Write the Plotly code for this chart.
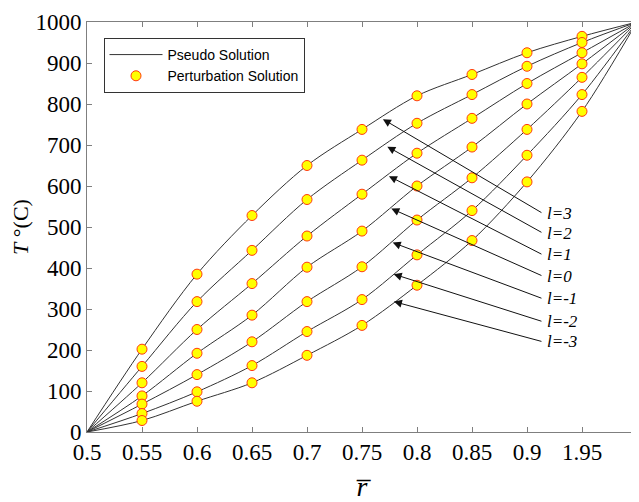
import plotly.graph_objects as go

r_vals = [0.55, 0.6, 0.65, 0.7, 0.75, 0.8, 0.85, 0.9, 0.95]
r_start, r_end = 0.5, 1.0
T_start, T_end = 0, 1000

l_labels = ["l=3", "l=2", "l=1", "l=0", "l=-1", "l=-2", "l=-3"]
T_l3 = [202, 385, 528, 650, 738, 820, 872, 925, 965]
T_l2 = [160, 318, 443, 567, 663, 753, 823, 892, 950]
T_l1 = [120, 250, 362, 478, 580, 680, 765, 850, 925]
T_l0 = [88, 192, 285, 402, 490, 600, 695, 800, 898]
T_lm1 = [68, 140, 220, 318, 403, 517, 620, 738, 865]
T_lm2 = [45, 98, 162, 245, 323, 432, 540, 675, 823]
T_lm3 = [28, 75, 120, 187, 260, 358, 467, 610, 782]
series = [T_l3, T_l2, T_l1, T_l0, T_lm1, T_lm2, T_lm3]

# arrow tips (on curves) and label anchors
arrow_tip_r = [0.769, 0.773, 0.7745, 0.7766, 0.7779, 0.7788, 0.779]
arrow_tip_T = [763, 696, 624, 545, 462, 385, 318]
label_r = 0.9145
label_T = [533, 485, 432, 380, 325, 269, 220]

x_tickvals = [0.5, 0.55, 0.6, 0.65, 0.7, 0.75, 0.8, 0.85, 0.9, 0.95, 1.0]
x_ticktext = ["0.5", "0.55", "0.6", "0.65", "0.7", "0.75", "0.8", "0.85", "0.9", "1.95", "1"]
y_tickvals = list(range(0, 1001, 100))

fig = go.Figure()

for i, T in enumerate(series):
    fig.add_trace(go.Scatter(
        x=[r_start] + r_vals + [r_end],
        y=[T_start] + T + [T_end],
        mode="lines",
        line=dict(color="#333333", width=1, shape="spline", smoothing=0.9),
        name="Pseudo Solution",
        showlegend=(i == 0),
        hoverinfo="skip",
    ))

for i, T in enumerate(series):
    fig.add_trace(go.Scatter(
        x=r_vals, y=T,
        mode="markers",
        marker=dict(size=10, color="#FFFF00", line=dict(color="#FF3A10", width=1)),
        name="Perturbation Solution",
        showlegend=(i == 0),
    ))

serif = "Liberation Serif"

for i in range(len(l_labels)):
    fig.add_annotation(
        x=arrow_tip_r[i], y=arrow_tip_T[i], xref="x", yref="y",
        ax=label_r, ay=label_T[i], axref="x", ayref="y",
        text="", showarrow=True, arrowhead=2, arrowsize=1.6, arrowwidth=1,
        arrowcolor="#111111", standoff=0, startstandoff=0,
    )
    fig.add_annotation(
        x=label_r, y=label_T[i], xref="x", yref="y",
        text="<i>" + l_labels[i] + "</i>", showarrow=False,
        xanchor="left", yanchor="middle", xshift=2,
        font=dict(family=serif, size=17, color="black"),
    )

axis_common = dict(
    showline=True, linecolor="#7f7f7f", linewidth=1, mirror="ticks",
    ticks="inside", ticklen=5, tickcolor="#7f7f7f", showgrid=False, zeroline=False,
    tickfont=dict(family=serif, size=23, color="black"), automargin=False,
)

fig.update_layout(
    width=631, height=494,
    margin=dict(l=78.5, r=1.5, t=14, b=70),
    plot_bgcolor="white", paper_bgcolor="white",
    xaxis=dict(range=[0.5, 1.0], tickvals=x_tickvals, ticktext=x_ticktext,
               ticklabeloverflow="allow", ticklabelstandoff=-1,
               title=dict(text="<i>r\u0305</i>",
                          font=dict(family=serif, size=28, color="black"), standoff=14),
               **axis_common),
    yaxis=dict(range=[0, 1000], tickvals=y_tickvals,
               title=dict(text="<i>T</i> °(C)", font=dict(family=serif, size=22, color="black"),
                          standoff=12),
               **axis_common),
    legend=dict(x=0.03, y=0.961, xanchor="left", yanchor="top",
                bordercolor="#333333", borderwidth=1, bgcolor="white",
                font=dict(family="Liberation Sans", size=14, color="black"),
                itemwidth=53, tracegroupgap=0),
    showlegend=True,
)

fig.write_html("out.html")
